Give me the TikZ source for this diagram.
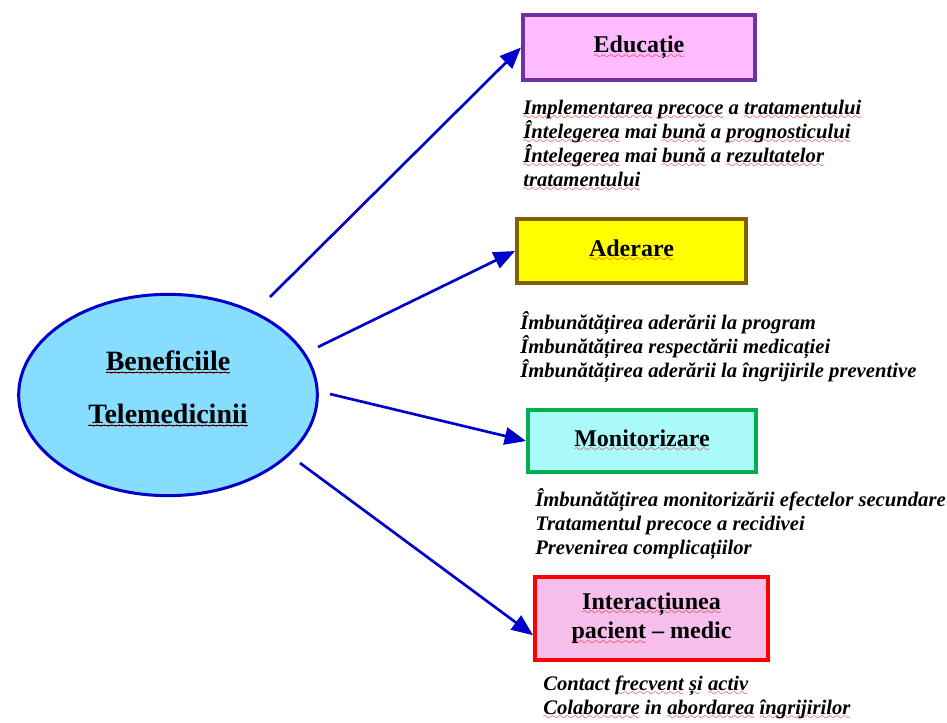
\documentclass[tikz,border=0pt]{standalone}
\usepackage{fontspec}
\setmainfont{Liberation Serif}
\usetikzlibrary{arrows.meta,shapes.geometric}

\definecolor{ellfill}{RGB}{135,221,255}
\definecolor{arrblue}{RGB}{0,0,204}
\definecolor{edufill}{RGB}{255,187,255}
\definecolor{edudraw}{RGB}{112,48,160}
\definecolor{aderfill}{RGB}{255,255,0}
\definecolor{aderdraw}{RGB}{128,96,0}
\definecolor{monfill}{RGB}{170,250,250}
\definecolor{mondraw}{RGB}{0,176,80}
\definecolor{intfill}{RGB}{245,190,235}
\definecolor{intdraw}{RGB}{255,0,0}

% red spell-check wave and black underline
\font\wavefont=lasy7
\newcommand\sq[1]{\setbox0\hbox{#1}%
  \rlap{\textcolor{red}{\lower4pt\hbox to\wd0{\xleaders\hbox{\wavefont\char58}\hfil}}}\box0\relax}
\newcommand\ulsq[1]{\setbox2\hbox{#1}\rlap{\rule[-2.2pt]{\wd2}{0.8pt}}\sq{#1}}

\tikzset{
  box/.style={rectangle, line width=3pt, inner sep=0pt, align=center,
    font=\fontsize{18}{22}\selectfont\bfseries},
  lista/.style={anchor=base west, inner sep=0pt, align=left,
    font=\fontsize{15.5}{18}\selectfont\bfseries\itshape},
  arr/.style={draw=arrblue, line width=2pt, -{Triangle[length=16pt,width=13pt]}}
}

\begin{document}
\begin{tikzpicture}[x=0.75pt,y=-0.75pt]
    \useasboundingbox (0,0) rectangle (947,722);

    \node[ellipse, draw=arrblue, fill=ellfill, line width=2.25pt, minimum width=224pt,
      minimum height=151pt, inner sep=0pt, align=center,
      font=\fontsize{21}{40}\selectfont\bfseries] (ben) at (168,395)
      {\ulsq{Beneficiile}\\\ulsq{Telemedicinii}\rule[-12pt]{0pt}{0pt}};

    \node[box, draw=edudraw, fill=edufill, minimum width=174pt, minimum height=48.75pt]
      (edu) at (639,47.5) {\sq{Educație}};
    \node[box, draw=aderdraw, fill=aderfill, minimum width=171.75pt, minimum height=48pt]
      (ader) at (631.5,251) {\sq{Aderare}};
    \node[box, draw=mondraw, fill=monfill, minimum width=171pt, minimum height=46.5pt]
      (mon) at (642,441) {\sq{Monitorizare}};
    \node[box, draw=intdraw, fill=intfill, minimum width=174.75pt, minimum height=62.25pt]
      (int) at (651.5,618.5) {\sq{Interacțiunea}\\\sq{pacient} – medic};

    % lists: anchored at the baseline of their last line
    \node[lista] (edulist) at (523,186)
      {\sq{Implementarea} \sq{precoce} a \sq{tratamentului}\\
       \sq{Întelegerea} mai \sq{bună} a \sq{prognosticului}\\
       \sq{Întelegerea} mai \sq{bună} a \sq{rezultatelor}\\
       \sq{tratamentului}};
    \node[lista] (aderlist) at (520,377)
      {Îmbunătățirea aderării la program\\
       Îmbunătățirea respectării medicației\\
       Îmbunătățirea aderării la îngrijirile preventive};
    \node[lista] (monlist) at (535,554)
      {Îmbunătățirea monitorizării efectelor secundare\\
       Tratamentul precoce a recidivei\\
       Prevenirea complicațiilor};
    \node[lista] (intlist) at (543,714)
      {Contact \sq{frecvent} \sq{și} \sq{activ}\\
       \sq{Colaborare} in \sq{abordarea} \sq{îngrijirilor}};

    \coordinate (s1) at (270,297);
    \coordinate (s2) at (318,347);
    \coordinate (s3) at (330,394);
    \coordinate (s4) at (300,463);
    \draw[arr] (s1) -- (edu.west);
    \draw[arr] (s2) -- (ader.west);
    \draw[arr] (s3) -- (mon.west);
    \draw[arr] (s4) -- (int.188);
\end{tikzpicture}
\end{document}
